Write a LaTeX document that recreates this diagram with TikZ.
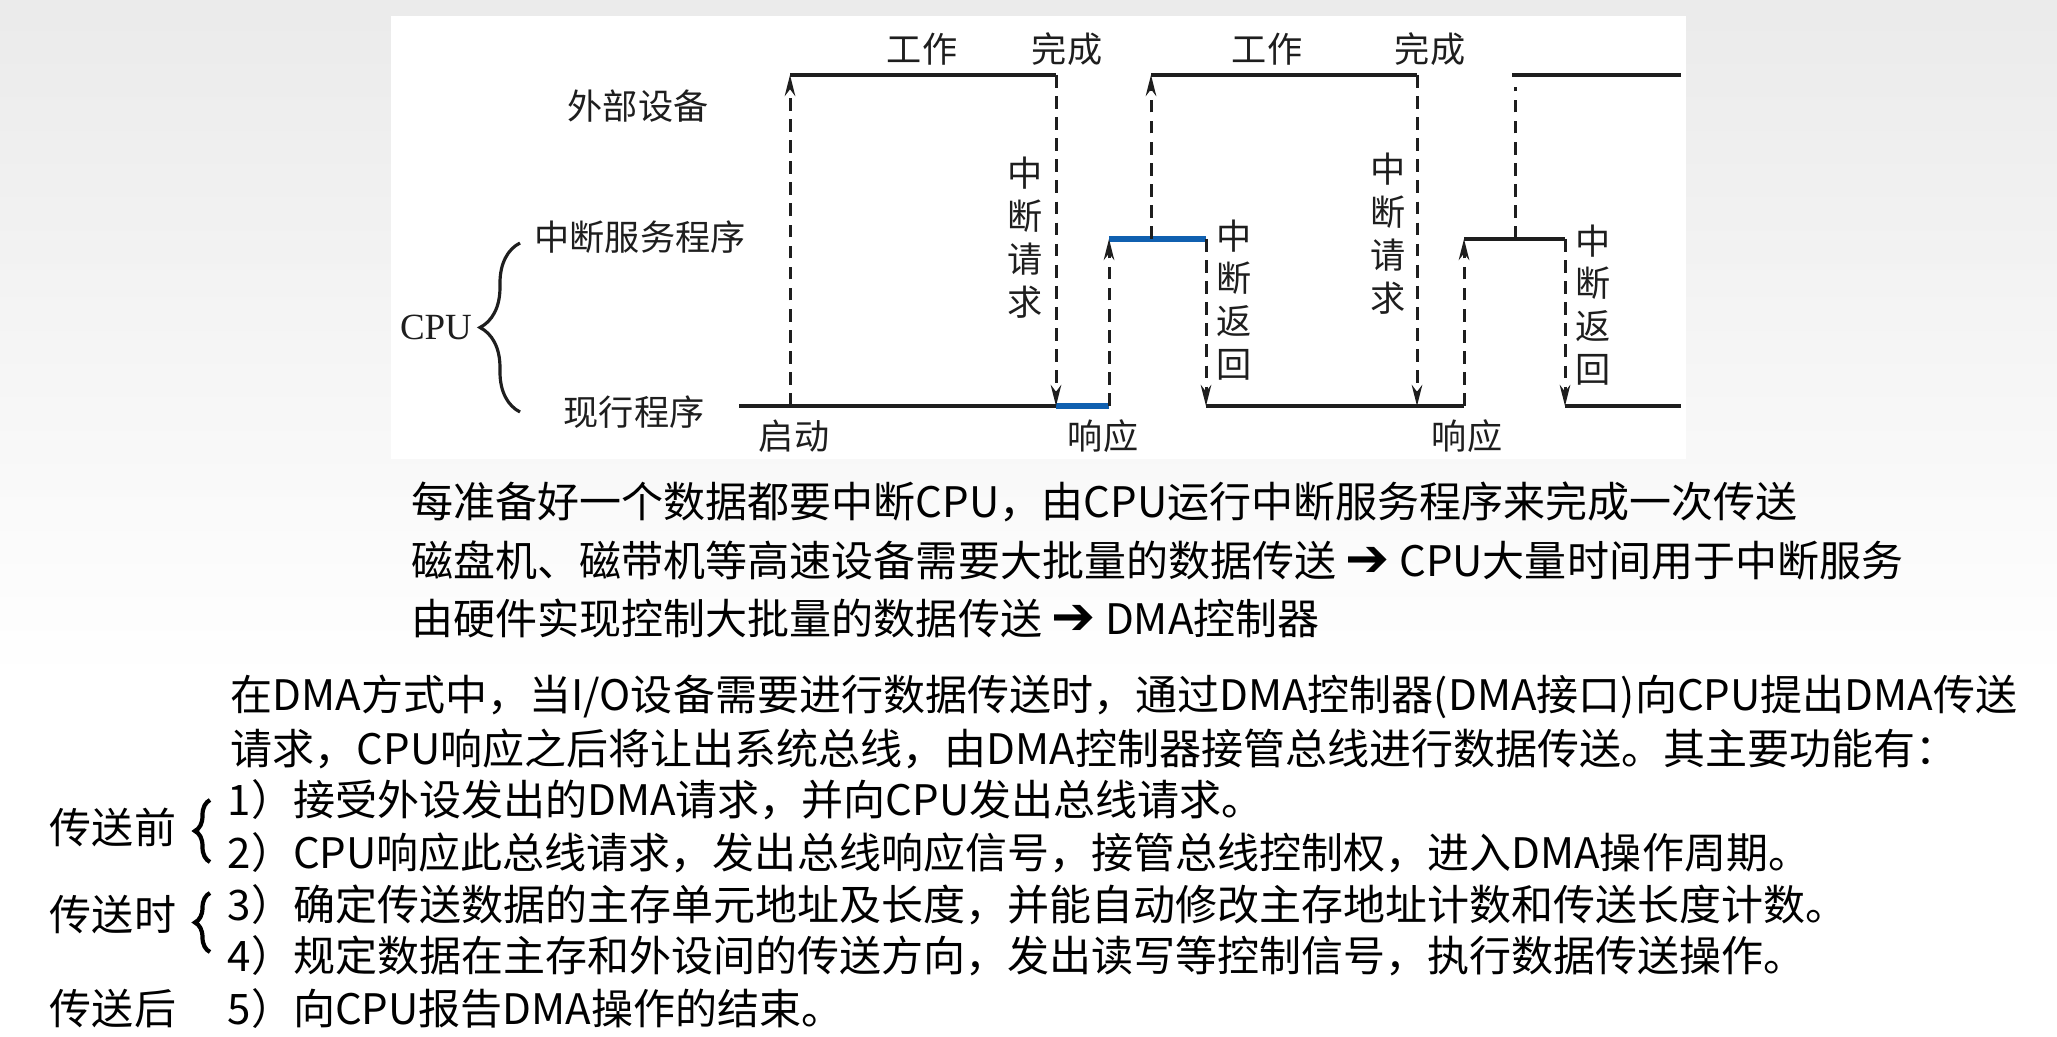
\documentclass[tikz,border=0pt]{standalone}
\usepackage{fontspec}
\setmainfont{Noto Sans CJK SC}
\newfontfamily\cpufont{Liberation Serif}
\newfontfamily\arrowfont{DejaVu Sans}
\usetikzlibrary{arrows.meta,decorations.pathreplacing,positioning}
\definecolor{isrblue}{RGB}{16,96,176}
\definecolor{inkgray}{RGB}{30,30,30}
\tikzset{
  lvl/.style={line width=1.05pt,draw=inkgray},
  busy/.style={line width=1.9pt,draw=isrblue},
  sig/.style={dash pattern=on 3.6pt off 2.4pt,line width=0.85pt,draw=inkgray,-{Stealth[length=6pt,width=3pt]}},
  tag/.style={font=\fontsize{10}{12}\selectfont,text=inkgray,inner sep=0pt},
  vtag/.style={tag,align=center,font=\fontsize{10}{12.2}\selectfont},
  say/.style={anchor=west,inner sep=0pt,font=\fontsize{11.95}{14}\selectfont},
  curly/.style={decorate,decoration={brace,amplitude=#1},line width=0.8pt}
}
\newcommand{\dmaarrow}{{\arrowfont\bfseries\fontsize{15}{14}\selectfont ➔}}

\begin{document}
\begin{tikzpicture}[x=0.01cm,y=-0.01cm]
  \useasboundingbox (0,0) rectangle (2057,1037);
  \fill[white] (0,0) rectangle (2057,1037);
  \shade[top color=black!8,bottom color=white] (0,0) rectangle (2057,680);
  \fill[white] (391,16) rectangle (1686,459);

  % time points
  \coordinate (run0) at (739,406);
  \coordinate (go1) at (790,406);   \coordinate (dev1) at (790,75);
  \coordinate (end1) at (1056,75);  \coordinate (irq1) at (1056,406);
  \coordinate (ack1) at (1109,406); \coordinate (isr1) at (1109,239);
  \coordinate (kick1) at (1151,239);\coordinate (dev2) at (1151,75);
  \coordinate (ret1) at (1206,239); \coordinate (back1) at (1206,406);
  \coordinate (end2) at (1417,75);  \coordinate (irq2) at (1417,406);
  \coordinate (ack2) at (1464,406); \coordinate (isr2) at (1464,239);
  \coordinate (kick2) at (1515,239);\coordinate (dev3) at (1515,87);
  \coordinate (ret2) at (1565,239); \coordinate (back2) at (1565,406);
  \coordinate (top3) at (1512,75);  \coordinate (top9) at (1681,75);
  \coordinate (run9) at (1681,406);

  % levels
  \draw[lvl] (dev1) -- (end1);
  \draw[lvl] (dev2) -- (end2);
  \draw[lvl] (top3) -- (top9);
  \draw[lvl] (run0) -- (irq1);
  \draw[lvl] (back1) -- (ack2);
  \draw[lvl] (isr2) -- (ret2);
  \draw[lvl] (back2) -- (run9);
  \draw[busy] (irq1) -- (ack1);
  \draw[busy] (isr1) -- (ret1);

  % signals
  \draw[sig] (go1) -- (dev1);
  \draw[sig] (end1) -- (irq1);
  \draw[sig] (ack1) -- (isr1);
  \draw[sig] (kick1) -- (dev2);
  \draw[sig] (ret1) -- (back1);
  \draw[sig] (end2) -- (irq2);
  \draw[sig] (ack2) -- (isr2);
  \draw[sig,-] (kick2) -- (dev3);
  \draw[sig] (ret2) -- (back2);

  % labels
  \node[tag] (work1) at (922,49) {工作};
  \node[tag] (done1) at (1067,49) {完成};
  \node[tag] (work2) at (1267,49) {工作};
  \node[tag] (done2) at (1430,49) {完成};
  \node[tag] (dev) at (638,106) {外部设备};
  \node[tag] (isr) at (640,237) {中断服务程序};
  \node[tag] (run) at (634,412) {现行程序};
  \node[tag,font=\cpufont\fontsize{10.5}{12}\selectfont] (cpu) at (436,327) {CPU};
  \coordinate (cpub) at (520,412);
  \coordinate (cput) at (520,243);
  \draw[curly=4mm,draw=inkgray,line width=0.9pt] (cpub) -- (cput);
  \node[tag] (start) at (794,436) {启动};
  \node[tag] (resp1) at (1103,436) {响应};
  \node[tag] (resp2) at (1467,436) {响应};
  \node[vtag] (req1) at (1025,238) {中\\断\\请\\求};
  \node[vtag] (rti1) at (1234,300) {中\\断\\返\\回};
  \node[vtag] (req2) at (1388,234) {中\\断\\请\\求};
  \node[vtag] (rti2) at (1593,305) {中\\断\\返\\回};

  % text below
  \node[say] (why1) at (411,502) {每准备好一个数据都要中断CPU，由CPU运行中断服务程序来完成一次传送};
  \node[say] (why2) at (411,560) {磁盘机、磁带机等高速设备需要大批量的数据传送 \dmaarrow{} CPU大量时间用于中断服务};
  \node[say] (why3) at (411,618) {由硬件实现控制大批量的数据传送 \dmaarrow{} DMA控制器};
  \node[say] (dma1) at (230,697) {在DMA方式中，当I/O设备需要进行数据传送时，通过DMA控制器(DMA接口)向CPU提出DMA传送};
  \node[say] (dma2) at (230,749) {请求，CPU响应之后将让出系统总线，由DMA控制器接管总线进行数据传送。其主要功能有：};
  \node[say] (fn1) at (227,800) {1）接受外设发出的DMA请求，并向CPU发出总线请求。};
  \node[say] (fn2) at (227,853) {2）CPU响应此总线请求，发出总线响应信号，接管总线控制权，进入DMA操作周期。};
  \node[say] (fn3) at (227,905) {3）确定传送数据的主存单元地址及长度，并能自动修改主存地址计数和传送长度计数。};
  \node[say] (fn4) at (227,956) {4）规定数据在主存和外设间的传送方向，发出读写等控制信号，执行数据传送操作。};
  \node[say] (fn5) at (227,1009) {5）向CPU报告DMA操作的结束。};

  \node[say,anchor=center] (pre) at (113,827) {传送前};
  \node[say,anchor=center] (mid) at (113,915) {传送时};
  \node[say,anchor=center] (post) at (113,1009) {传送后};
  \coordinate (preb) at (210,862); \coordinate (pret) at (210,800);
  \coordinate (midb) at (210,952); \coordinate (midt) at (210,893);
  \draw[curly=1.5mm,line width=1.2pt] (preb) -- (pret);
  \draw[curly=1.5mm,line width=1.2pt] (midb) -- (midt);
\end{tikzpicture}
\end{document}
